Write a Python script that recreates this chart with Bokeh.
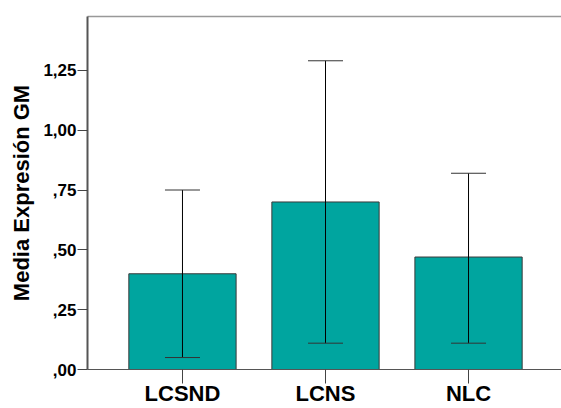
from bokeh.plotting import figure
from bokeh.models import Range1d, FixedTicker, LinearAxis, ColumnDataSource
from bokeh.embed import file_html
from bokeh.resources import INLINE

categories = ["LCSND", "LCNS", "NLC"]
means = [0.40, 0.70, 0.47]
lower = [0.05, 0.11, 0.11]
upper = [0.75, 1.29, 0.82]
y_ticks = [0.0, 0.25, 0.50, 0.75, 1.00, 1.25]
y_tick_labels = [",00", ",25", ",50", ",75", "1,00", "1,25"]

xpos = list(range(len(categories)))
src = ColumnDataSource(dict(x=xpos, mean=means, lower=lower, upper=upper))

p = figure(width=561, height=408, output_backend="svg", toolbar_location=None,
           x_range=Range1d(-0.664, 2.650), y_range=Range1d(0, 1.475),
           min_border_left=87, min_border_right=0, min_border_top=16, min_border_bottom=38)
p.background_fill_color = "white"
p.border_fill_color = "white"
p.outline_line_color = None
p.grid.visible = False

p.vbar(x="x", top="mean", width=0.75, bottom=0, source=src,
       fill_color="#00a59f", line_color="#3a3a3a", line_width=1)
p.segment(x0="x", y0="lower", x1="x", y1="upper", source=src, line_color="black", line_width=1)
p.scatter(x="x", y="upper", source=src, marker="dash", size=35, line_color="#333333", line_width=1)
p.scatter(x="x", y="lower", source=src, marker="dash", size=35, line_color="#333333", line_width=1)

# x axis
xa = p.xaxis[0]
xa.ticker = FixedTicker(ticks=[float(v) for v in xpos])
xa.major_label_overrides = {i: c for i, c in zip(xpos, categories)}
xa.major_label_text_font = "Liberation Sans"
xa.major_label_text_font_style = "bold"
xa.major_label_text_font_size = "22px"
xa.major_label_text_color = "black"
xa.major_tick_out = 14
xa.major_tick_in = 0
xa.major_tick_line_width = 1
xa.major_tick_line_color = "#444444"
xa.minor_tick_out = 0
xa.minor_tick_in = 0
xa.major_label_standoff = -3
xa.axis_line_color = "#555555"

# y axis
ya = p.yaxis[0]
ya.ticker = FixedTicker(ticks=y_ticks)
ya.major_label_overrides = {t: l for t, l in zip(y_ticks, y_tick_labels)}
ya.major_label_text_font = "Liberation Sans"
ya.major_label_text_font_style = "bold"
ya.major_label_text_font_size = "17px"
ya.major_label_text_color = "black"
ya.major_tick_out = 10
ya.major_tick_in = 0
ya.minor_tick_out = 0
ya.minor_tick_in = 0
ya.major_label_standoff = 1
ya.axis_line_color = "#555555"
ya.axis_line_width = 2
ya.major_tick_line_color = "#444444"
ya.axis_label = "Media Expresión GM"
ya.axis_label_text_font = "Liberation Sans"
ya.axis_label_text_font_style = "bold"
ya.axis_label_text_font_size = "22px"
ya.axis_label_text_color = "black"
ya.axis_label_standoff = 6

# top border line
top = LinearAxis(ticker=FixedTicker(ticks=[]), major_tick_out=0, major_tick_in=0,
                 minor_tick_out=0, minor_tick_in=0, major_label_text_font_size="0px",
                 axis_line_color="#999999", axis_line_width=1.5)
p.add_layout(top, "above")

open("out.html", "w").write(file_html(p, INLINE))
